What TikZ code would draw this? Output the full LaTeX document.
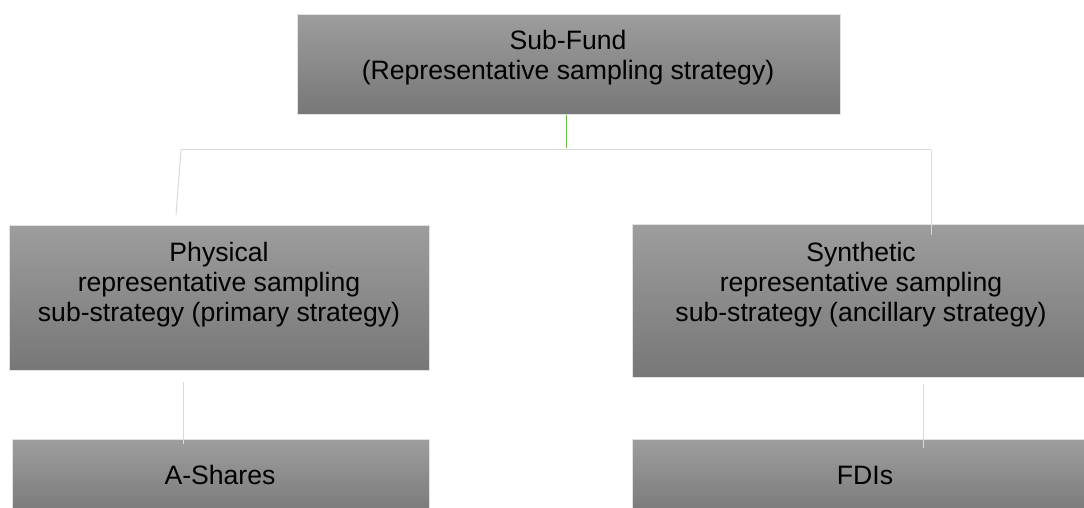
\documentclass[tikz,border=0pt]{standalone}
\usepackage{fontspec}
\setmainfont{Liberation Sans}
\definecolor{boxtop}{HTML}{9D9D9D}
\definecolor{boxbot}{HTML}{777777}
\definecolor{boxedge}{HTML}{E2E2E2}
\definecolor{linkgray}{HTML}{D9D9D9}
\definecolor{linkgreen}{HTML}{6CC04A}
\tikzset{
  boxnode/.style={rectangle, draw=boxedge, line width=1pt, top color=boxtop, bottom color=boxbot, inner sep=0pt, anchor=north west},
  txtnode/.style={align=center, inner sep=0pt, font=\fontsize{26.6}{30}\selectfont, text=black},
  link/.style={draw=linkgray, line width=1pt},
}
\begin{document}
\begin{tikzpicture}[x=1pt,y=-1pt]
\useasboundingbox (0,0) rectangle (1084,508);
% boxes
\node[boxnode, minimum width=543pt, minimum height=100pt] (top) at (297,14) {};
\node[boxnode, minimum width=420pt, minimum height=145pt] (phys) at (9,225) {};
\node[boxnode, minimum width=460pt, minimum height=153pt] (synt) at (632,224) {};
\node[boxnode, minimum width=417pt, minimum height=80pt] (ash) at (12,439) {};
\node[boxnode, minimum width=460pt, minimum height=80pt] (fdi) at (632,439) {};
% texts
\node[txtnode] (toptxt) at (568,58) {Sub-Fund\\(Representative sampling strategy)};
\node[txtnode] (phystxt) at (219,285) {Physical\\representative sampling\\sub-strategy (primary strategy)};
\node[txtnode] (synttxt) at (861,285) {Synthetic\\representative sampling\\sub-strategy (ancillary strategy)};
\node[txtnode] (ashtxt) at (220,475) {A-Shares};
\node[txtnode] (fditxt) at (865,475) {FDIs};
% connectors
\coordinate (busmid) at (566,148);
\coordinate (busleft) at (181,150);
\coordinate (busright) at (931,150);
\coordinate (physin) at (176,215);
\coordinate (syntin) at (931,235);
\coordinate (ashfrom) at (183,382);
\coordinate (ashin) at (183,444);
\coordinate (fdifrom) at (923,384);
\coordinate (fdiin) at (923,448);
\draw[link] (busleft) -- (busright);
\draw[draw=linkgreen, line width=1pt] (top.south -| busmid) -- (busmid);
\draw[link] (busleft) -- (physin);
\draw[link] (busright) -- (syntin);
\draw[link] (ashfrom) -- (ashin);
\draw[link] (fdifrom) -- (fdiin);
\end{tikzpicture}
\end{document}
